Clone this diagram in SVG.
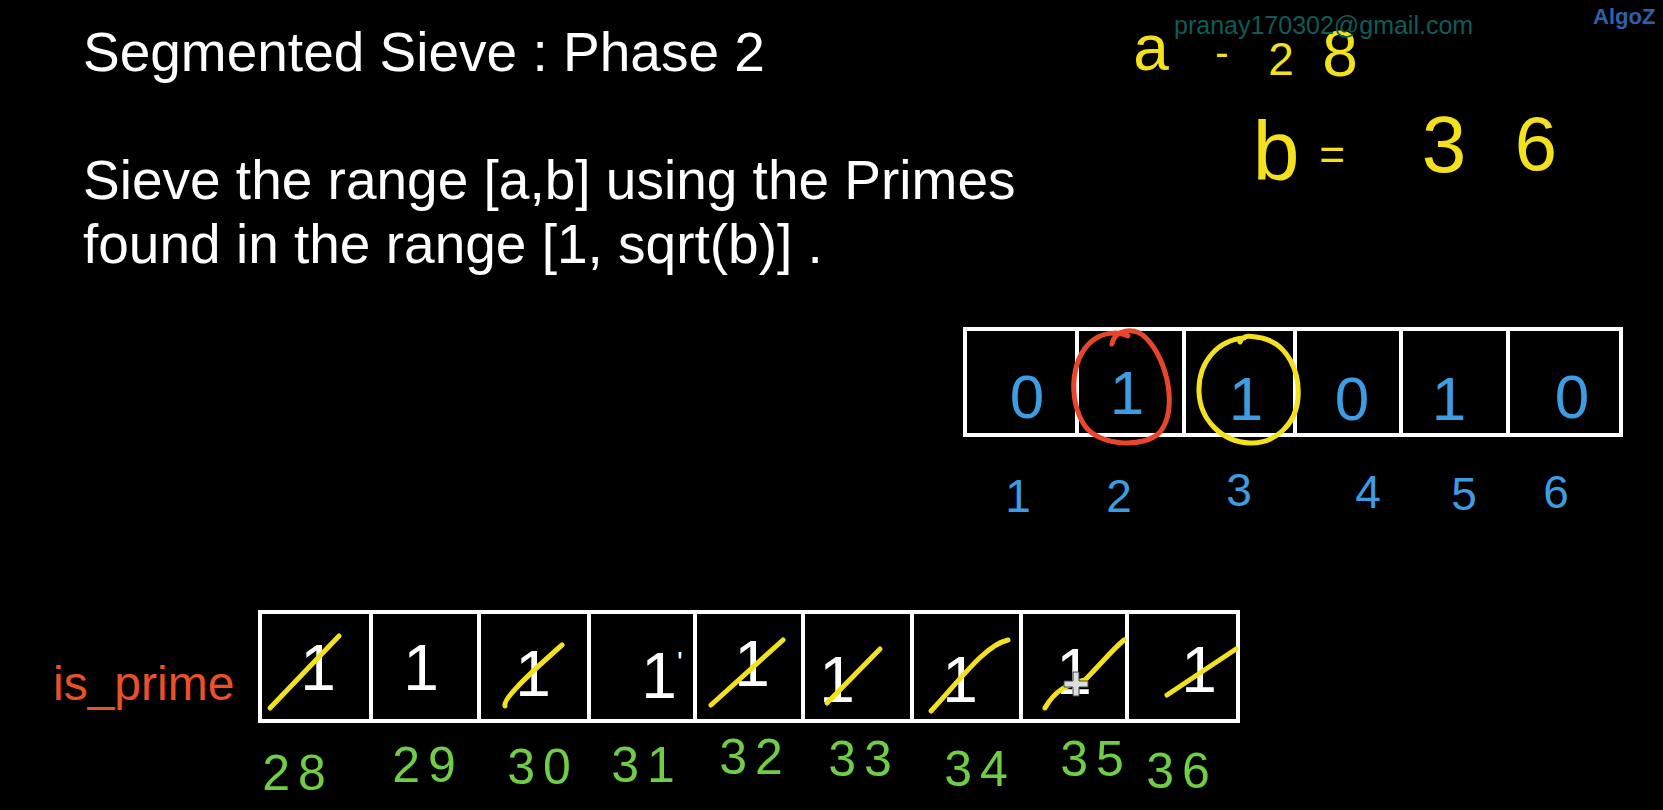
<svg xmlns="http://www.w3.org/2000/svg" width="1663" height="810" viewBox="0 0 1663 810">
<style>
.h{font-family:"Liberation Sans",Arial,sans-serif;fill:#fff;font-size:55px}
.y{font-family:"Liberation Sans",Arial,sans-serif;fill:#f3e11d;text-anchor:middle}
.bl{font-family:"Liberation Sans",Arial,sans-serif;fill:#3d9de3;text-anchor:middle}
.gr{font-family:"Liberation Sans",Arial,sans-serif;fill:#6fce45;text-anchor:middle;font-size:50px;letter-spacing:8px}
.wt{font-family:"Liberation Sans",Arial,sans-serif;fill:#fff;text-anchor:middle;font-size:64px}
.box{fill:#000;stroke:#fff;stroke-width:4}
.div{stroke:#fff;stroke-width:4}
.sl{fill:none;stroke:#f3e11d;stroke-width:5;stroke-linecap:round}
</style>
<rect width="1663" height="810" fill="#000"/>
<g id="title">
<text class="h" x="83" y="71">Segmented Sieve : Phase 2</text>
<text class="h" x="83" y="199">Sieve the range [a,b] using the Primes</text>
<text class="h" x="83" y="263">found in the range [1, sqrt(b)] .</text>
</g>
<g id="ab">
<text class="y" x="1151" y="70" font-size="64">a</text>
<text class="y" x="1222" y="66" font-size="40">-</text>
<text class="y" x="1281" y="75" font-size="46">2</text>
<text class="y" x="1340" y="76" font-size="64">8</text>
<text class="y" x="1276" y="180" font-size="84">b</text>
<text class="y" x="1332" y="170" font-size="44">=</text>
<text class="y" x="1444" y="172" font-size="80">3</text>
<text class="y" x="1536" y="170" font-size="76">6</text>
</g>
<g id="watermark">
<text x="1174" y="34" font-family="'Liberation Sans',Arial,sans-serif" font-size="25" fill="#0f5b5a">pranay170302@gmail.com</text>
<text x="1593" y="24" font-family="'Liberation Sans',Arial,sans-serif" font-size="22" font-weight="bold" fill="#2f5fae">AlgoZ</text>
</g>
<g id="prime-array">
<rect class="box" x="965" y="329" width="656" height="106"/>
<line class="div" x1="1077" y1="329" x2="1077" y2="435"/>
<line class="div" x1="1184" y1="329" x2="1184" y2="435"/>
<line class="div" x1="1295" y1="329" x2="1295" y2="435"/>
<line class="div" x1="1401" y1="329" x2="1401" y2="435"/>
<line class="div" x1="1508" y1="329" x2="1508" y2="435"/>
<g font-size="62">
<text class="bl" x="1027" y="418">0</text>
<text class="bl" x="1127" y="414">1</text>
<text class="bl" x="1246" y="420">1</text>
<text class="bl" x="1352" y="420">0</text>
<text class="bl" x="1449" y="420">1</text>
<text class="bl" x="1572" y="418">0</text>
</g>
<g font-size="46">
<text class="bl" x="1018" y="512">1</text>
<text class="bl" x="1119" y="512">2</text>
<text class="bl" x="1239" y="506">3</text>
<text class="bl" x="1368" y="508">4</text>
<text class="bl" x="1464" y="510">5</text>
<text class="bl" x="1556" y="508">6</text>
</g>
</g>
<g id="circles">
<path d="M1112,344 C1114,330 1134,326 1146,338 C1168,360 1178,410 1160,432 C1146,448 1100,447 1085,426 C1067,400 1070,352 1098,337 C1108,332 1120,332 1128,336" fill="none" stroke="#e8462b" stroke-width="5" stroke-linecap="round"/>
<path d="M1240,342 C1243,334 1252,336 1262,338 C1288,344 1300,372 1298,398 C1296,425 1274,444 1250,443 C1222,442 1200,420 1199,392 C1198,362 1218,340 1244,338" fill="none" stroke="#f3e11d" stroke-width="5" stroke-linecap="round"/>
</g>
<g id="is-prime-label">
<text x="53" y="700" font-family="'Liberation Sans',Arial,sans-serif" font-size="48" fill="#ea5128">is_prime</text>
</g>
<g id="is-prime-array">
<rect class="box" x="260" y="612" width="978" height="109"/>
<line class="div" x1="371" y1="612" x2="371" y2="721"/>
<line class="div" x1="479" y1="612" x2="479" y2="721"/>
<line class="div" x1="589" y1="612" x2="589" y2="721"/>
<line class="div" x1="695" y1="612" x2="695" y2="721"/>
<line class="div" x1="803" y1="612" x2="803" y2="721"/>
<line class="div" x1="912" y1="612" x2="912" y2="721"/>
<line class="div" x1="1021" y1="612" x2="1021" y2="721"/>
<line class="div" x1="1127" y1="612" x2="1127" y2="721"/>
<text class="wt" x="318" y="690">1</text>
<text class="wt" x="421" y="690">1</text>
<text class="wt" x="533" y="696">1</text>
<text class="wt" x="662" y="698">1<tspan font-size="30" dy="-26">'</tspan></text>
<text class="wt" x="752" y="686">1</text>
<text class="wt" x="837" y="702">1</text>
<text class="wt" x="960" y="702">1</text>
<text class="wt" x="1074" y="694">1</text>
<text class="wt" x="1199" y="692">1</text>
<path class="sl" d="M270,708 L339,636"/>
<path class="sl" d="M505,706 C503,700 520,682 562,645"/>
<path class="sl" d="M711,705 L783,640"/>
<path class="sl" d="M827,703 L880,649"/>
<path class="sl" d="M931,711 C960,680 985,645 1008,640"/>
<path class="sl" d="M1045,708 C1055,690 1068,684 1085,680 C1100,665 1112,650 1124,640"/>
<path class="sl" d="M1167,695 L1236,649"/>
</g>
<g id="cursor">
<path d="M1073,672 h6 v9 h9 v6 h-9 v9 h-6 v-9 h-9 v-6 h9 z" fill="#ddd" stroke="#444" stroke-width="1"/>
</g>
<g id="index-labels">
<text class="gr" x="298" y="790">28</text>
<text class="gr" x="428" y="782">29</text>
<text class="gr" x="543" y="784">30</text>
<text class="gr" x="647" y="782">31</text>
<text class="gr" x="755" y="774">32</text>
<text class="gr" x="864" y="776">33</text>
<text class="gr" x="980" y="786">34</text>
<text class="gr" x="1096" y="776">35</text>
<text class="gr" x="1182" y="788">36</text>
</g>
</svg>
